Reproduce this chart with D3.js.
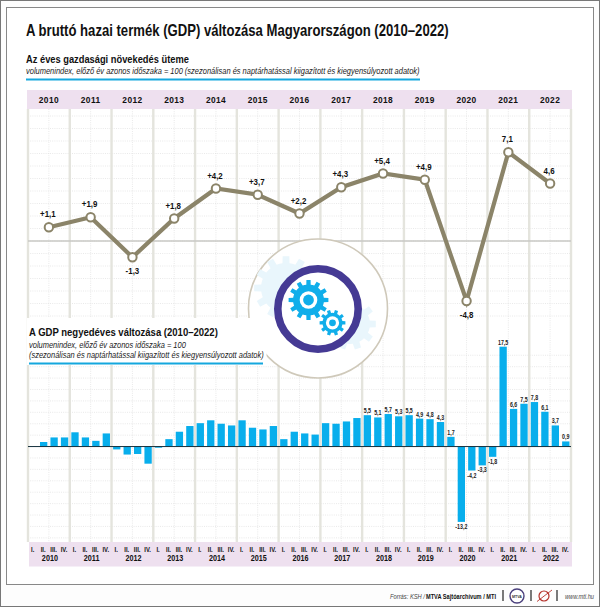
<!DOCTYPE html>
<html><head><meta charset="utf-8">
<script src="https://cdn.jsdelivr.net/npm/d3@7/dist/d3.min.js"></script>
<style>html,body{margin:0;padding:0;background:#fff}svg{display:block}text{font-family:"Liberation Sans",Arial,sans-serif}</style>
</head><body><svg id="c" width="600" height="607"></svg>
<script>
const years=[2010,2011,2012,2013,2014,2015,2016,2017,2018,2019,2020,2021,2022];
const annual=[1.1,1.9,-1.3,1.8,4.2,3.7,2.2,4.3,5.4,4.9,-4.8,7.1,4.6];
const annualLabels=["+1,1","+1,9","-1,3","+1,8","+4,2","+3,7","+2,2","+4,3","+5,4","+4,9","-4,8","7,1","4,6"];
const quarters=["I.","II.","III.","IV."];
const quarterly=[0,0.8,1.6,1.6, 2.5,1.6,1.0,2.3, -0.5,-1.4,-1.3,-3.0, -0.2,1.3,2.6,3.6,
 4.1,4.6,4.0,3.7, 4.6,3.3,3.0,3.6, 1.3,2.6,2.3,2.1, 4.1,4.0,4.4,5.0,
 5.5,5.1,5.7,5.3, 5.5,4.9,4.8,4.3, 1.7,-13.2,-4.2,-3.3, -1.8,17.5,6.6,7.5, 7.8,6.1,3.7,0.9];
const labelFrom=32;
const title="A bruttó hazai termék (GDP) változása Magyarországon (2010–2022)";
const sub1="Az éves gazdasági növekedés üteme";
const note1="volumenindex, előző év azonos időszaka = 100 (szezonálisan és naptárhatással kiigazított és kiegyensúlyozott adatok)";
const sub2="A GDP negyedéves változása (2010–2022)";
const note2a="volumenindex, előző év azonos időszaka = 100";
const note2b="(szezonálisan és naptárhatással kiigazított és kiegyensúlyozott adatok)";
const sourceA="Forrás: KSH /";
const sourceB="MTVA Sajtóarchívum / MTI";
const site="www.mti.hu";

const svg=d3.select("#c");
const comma=v=>(v<0?"-":"")+d3.format(".1f")(Math.abs(v)).replace(".",",");
function T(s,x,y,size,o={}){
  const t=svg.append("text").attr("font-size",size).text(s)
   .attr("fill",o.fill||"#111").attr("font-weight",o.w||"normal").attr("font-style",o.i?"italic":"normal")
   .attr("text-anchor",o.a||"start");
  if(o.ls) t.attr("letter-spacing",o.ls);
  let k=o.k||1;
  if(o.len) k=o.len/t.node().getComputedTextLength();
  t.attr("transform",`translate(${x},${y}) scale(${k},1)`);
  return t;
}
svg.append("rect").attr("x",0.5).attr("y",0.5).attr("width",599).attr("height",606).attr("fill","#fdfdfd").attr("stroke","#777");
svg.append("rect").attr("x",6.5).attr("y",7.5).attr("width",587).attr("height",577).attr("fill","#fff").attr("stroke","#888");

const xYear=d3.scaleBand().domain(years).range([28,571]).padding(0);
const xQ=d3.scaleBand().domain(d3.range(quarterly.length)).range([28,571]).paddingInner(0.3).paddingOuter(0.15);
const yA=d3.scaleLinear().domain([-6.32,10.48]).range([320,110]);
const yQ=d3.scaleLinear().domain([-16.9,17.5]).range([543,346.7]);

svg.append("rect").attr("x",27).attr("y",90).attr("width",545).attr("height",19).attr("fill","#eee0ef");
svg.append("rect").attr("x",29).attr("y",542).attr("width",543).attr("height",24.5).attr("fill","#eee0ef");

const dot=(g)=>g.attr("stroke","#dfdfdf").attr("stroke-width",0.7).attr("stroke-dasharray","1 1.2");
dot(svg.append("g").selectAll("line").data(d3.range(-6,11)).join("line")
  .attr("x1",28).attr("x2",571).attr("y1",d=>yA(d)).attr("y2",d=>yA(d)));
dot(svg.append("g").selectAll("line").data(d3.range(-16,18,2)).join("line")
  .attr("x1",28).attr("x2",571).attr("y1",d=>yQ(d)).attr("y2",d=>yQ(d)));
dot(svg.append("g").selectAll("line").data(years).join("line")
  .attr("x1",d=>xYear(d)+xYear.bandwidth()/2).attr("x2",d=>xYear(d)+xYear.bandwidth()/2).attr("y1",109).attr("y2",542));
svg.append("g").selectAll("line").data(years.concat(["end"])).join("line")
  .attr("x1",d=>d==="end"?571:xYear(d)).attr("x2",d=>d==="end"?571:xYear(d)).attr("y1",109).attr("y2",542)
  .attr("stroke","#e4e4dd").attr("stroke-width",2.4);
svg.append("line").attr("x1",28).attr("x2",571).attr("y1",yA(0)).attr("y2",yA(0)).attr("stroke","#c9c9c4").attr("stroke-width",1.5);

function gear(cx,cy,ro,ri,n){
  const pts=[],st=2*Math.PI/n;
  for(let i=0;i<n;i++){
    const a=i*st;
    [[-.5,ri],[-.27,ri],[-.2,ro],[.2,ro],[.27,ri],[.5,ri]].forEach(([k,r])=>{
      pts.push([cx+r*Math.cos(a+k*st),cy+r*Math.sin(a+k*st)]);
    });
  }
  return d3.line()(pts)+"Z";
}
const cX=318,cY=308.5;
svg.append("circle").attr("cx",cX).attr("cy",cY).attr("r",69.5).attr("fill","#fff").attr("stroke","#cfc9ba").attr("stroke-width",1.6);
svg.append("path").attr("d",gear(286,288,32,25,12)).attr("fill","#e9f6fc");
svg.append("path").attr("d",gear(350,324,26,20,10)).attr("fill","#e9f6fc");
svg.append("circle").attr("cx",cX).attr("cy",cY+0.5).attr("r",40.2).attr("fill","#fff").attr("stroke","#453a94").attr("stroke-width",7.6);
[[308.5,300,20,15.5,12,8.8,5.4],[332.5,322.8,13,10,10,6.6,3.4]].forEach(([x,y,ro,ri,n,w,b])=>{
  svg.append("path").attr("d",gear(x,y,ro,ri,n)).attr("fill","#10aeea");
  svg.append("circle").attr("cx",x).attr("cy",y).attr("r",w).attr("fill","#fff");
  svg.append("circle").attr("cx",x).attr("cy",y).attr("r",b).attr("fill","#10aeea");
});
svg.append("rect").attr("x",27).attr("y",318).attr("width",239.5).attr("height",47).attr("fill","#fff");

const cx=i=>xYear(years[i])+xYear.bandwidth()/2;
const lineA=d3.line().x((d,i)=>cx(i)).y(d=>yA(d));
svg.append("path").attr("d",lineA(annual)).attr("fill","none").attr("stroke","#8b8469").attr("stroke-width",4.2);
svg.append("g").selectAll("circle").data(annual).join("circle")
  .attr("cx",(d,i)=>cx(i)).attr("cy",d=>yA(d)).attr("r",4.2)
  .attr("fill","#fff").attr("stroke","#8b8469").attr("stroke-width",2);
annual.forEach((d,i)=>T(annualLabels[i],cx(i)-(d<0?0:1),d<0?yA(d)+17:yA(d)-10,9.2,{a:"middle",w:"bold",k:0.86}));

svg.append("g").selectAll("rect").data(quarterly).join("rect")
  .attr("x",(d,i)=>xQ(i)).attr("width",xQ.bandwidth())
  .attr("y",d=>yQ(Math.max(0,d))).attr("height",d=>Math.abs(yQ(d)-yQ(0))).attr("fill","#08aeec");
svg.append("line").attr("x1",28).attr("x2",571).attr("y1",yQ(0)).attr("y2",yQ(0)).attr("stroke","#14303c").attr("stroke-width",1);
quarterly.forEach((v,i)=>{ if(i>=labelFrom)
  T(comma(v),xQ(i)+xQ.bandwidth()/2,v<0?yQ(v)+7:yQ(v)-2,6.6,{a:"middle",w:"bold",k:0.8,fill:"#222"}); });

years.forEach((y,i)=>{
  T(y,cx(i),103,8.8,{a:"middle",w:"bold",k:0.95,ls:0.4});
  T(y,cx(i)+1,561,8.8,{a:"middle",w:"bold",k:0.82});
});
quarterly.forEach((v,i)=>T(quarters[i%4],xQ(i)+xQ.bandwidth()/2-0.5,551.5,7.2,{a:"middle",w:"bold",k:0.82}));

T(title,26,36,16.5,{w:"bold",len:423});
T(sub1,26,63,11.5,{w:"bold",len:163});
T(note1,26,73.5,8.6,{i:1,len:394,fill:"#222"});
svg.append("line").attr("x1",26).attr("x2",420).attr("y1",79.5).attr("y2",79.5).attr("stroke","#14a7de").attr("stroke-width",2);
T(sub2,29,336,11.5,{w:"bold",len:189});
T(note2a,29,348,8.6,{i:1,len:157,fill:"#222"});
T(note2b,29,357.5,8.6,{i:1,len:235,fill:"#222"});
svg.append("line").attr("x1",29).attr("x2",263).attr("y1",363.5).attr("y2",363.5).attr("stroke","#14a7de").attr("stroke-width",2);

T(sourceA,390,598.5,7.4,{i:1,len:35,fill:"#444"});
T(sourceB,426,598.5,7.4,{w:"bold",len:70});
[503,531,557].forEach(x=>svg.append("line").attr("x1",x).attr("x2",x).attr("y1",590).attr("y2",601).attr("stroke","#222").attr("stroke-width",1.2));
svg.append("circle").attr("cx",517).attr("cy",596).attr("r",7).attr("fill","#fff").attr("stroke","#4a3f7c").attr("stroke-width",1.4);
T("MTVA",517,597.5,3.6,{a:"middle",w:"bold",fill:"#333"});
svg.append("circle").attr("cx",544).attr("cy",596).attr("r",5).attr("fill","none").attr("stroke","#b5332c").attr("stroke-width",1.2);
svg.append("line").attr("x1",537).attr("x2",552).attr("y1",601.5).attr("y2",590).attr("stroke","#b5332c").attr("stroke-width",0.9);
T(site,565,598.5,7.2,{i:1,len:29,fill:"#444"});
</script></body></html>
